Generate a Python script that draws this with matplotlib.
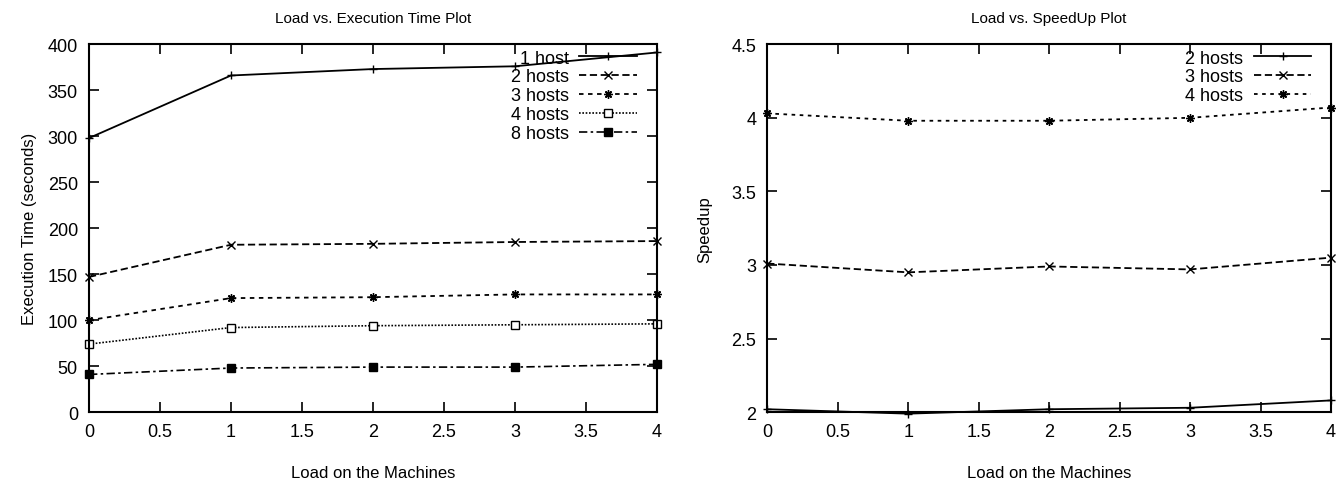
import matplotlib
matplotlib.use("Agg")
import matplotlib.pyplot as plt
from matplotlib.ticker import FormatStrFormatter, MultipleLocator

plt.rcParams['font.family'] = ['Liberation Sans', 'DejaVu Sans']

load = [0, 1, 2, 3, 4]

# execution time (seconds)
t_1host = [298, 366, 373, 376, 391]
t_2hosts = [147, 182, 183, 185, 186]
t_3hosts = [100, 124, 125, 128, 128]
t_4hosts = [74, 92, 94, 95, 96]
t_8hosts = [41, 48, 49, 49, 52]

# speedup
s_2hosts = [2.02, 1.99, 2.02, 2.03, 2.08]
s_3hosts = [3.01, 2.95, 2.99, 2.97, 3.05]
s_4hosts = [4.03, 3.98, 3.98, 4.00, 4.07]

asterisk = (8, 2, 0)

fig = plt.figure(figsize=(13.39, 4.81), dpi=100)
ax1 = fig.add_axes([0.0665, 0.141, 0.424, 0.765])
ax2 = fig.add_axes([0.573, 0.141, 0.421, 0.765])

kw = dict(color="black", lw=1.3, ms=6, clip_on=False)
ax1.plot(load, t_1host, ls="-", marker="+", label="1 host", **kw)
ax1.plot(load, t_2hosts, ls=(0, (4, 2)), marker="x", label="2 hosts", **kw)
ax1.plot(load, t_3hosts, ls=(0, (2.5, 2.5)), marker=asterisk, label="3 hosts", **kw)
ax1.plot(load, t_4hosts, ls=(0, (1, 1)), marker="s", mfc="white", ms=6,
         label="4 hosts", color="black", lw=1.2, clip_on=False)
ax1.plot(load, t_8hosts, ls=(0, (5, 2, 1.5, 2)), marker="s", ms=6,
         label="8 hosts", color="black", lw=1.2, clip_on=False)

ax2.plot(load, s_2hosts, ls="-", marker="+", label="2 hosts", **kw)
ax2.plot(load, s_3hosts, ls=(0, (4, 2)), marker="x", label="3 hosts", **kw)
ax2.plot(load, s_4hosts, ls=(0, (2, 2.5)), marker=asterisk, label="4 hosts", **kw)

ax1.set_xlim(0, 4)
ax1.set_ylim(0, 400)
ax1.yaxis.set_major_locator(MultipleLocator(50))
ax2.set_xlim(0, 4)
ax2.set_ylim(2, 4.5)
ax2.yaxis.set_major_locator(MultipleLocator(0.5))

for ax in (ax1, ax2):
    ax.xaxis.set_major_locator(MultipleLocator(0.5))
    ax.xaxis.set_major_formatter(FormatStrFormatter("%g"))
    ax.yaxis.set_major_formatter(FormatStrFormatter("%g"))
    ax.tick_params(direction="in", top=True, right=True, length=7, width=1.2,
                   labelsize=13, pad=8)
    for sp in ax.spines.values():
        sp.set_linewidth(1.5)
    ax.set_xlabel("Load on the Machines", fontsize=12, labelpad=18)
    leg = ax.legend(loc="upper right", frameon=False, markerfirst=False,
                    fontsize=13, handlelength=3.2, labelspacing=0.1,
                    borderaxespad=0.1, borderpad=0.2, handletextpad=0.6,
                    bbox_to_anchor=(0.975, 1.0))
    # right-justify the labels like gnuplot does
    for col in leg._legend_handle_box.get_children():
        col.align = "right"

ax1.set_ylabel("Execution Time (seconds)", fontsize=12, labelpad=8)
ax2.set_ylabel("Speedup", fontsize=12, labelpad=14)
ax1.set_title("Load vs. Execution Time Plot", fontsize=11, pad=16)
ax2.set_title("Load vs. SpeedUp Plot", fontsize=11, pad=16)

fig.savefig("out.png", dpi=100)
plt.close(fig)
